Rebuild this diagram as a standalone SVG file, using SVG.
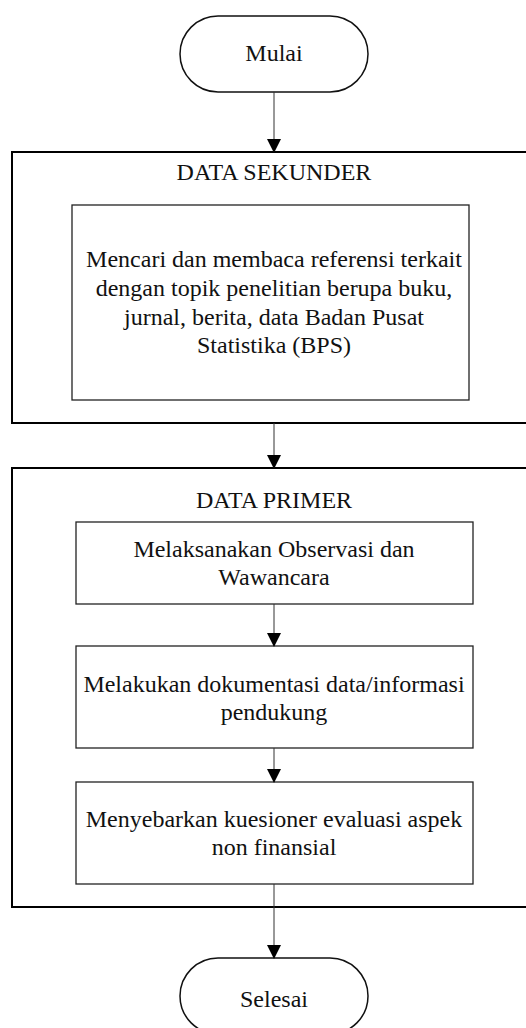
<svg xmlns="http://www.w3.org/2000/svg" width="526" height="1028" viewBox="0 0 526 1028">
<style>
text{font-family:'Liberation Serif',serif;font-size:24px;fill:#111;text-anchor:middle}
.outer{fill:none;stroke:#000;stroke-width:2}
.box{fill:#fff;stroke:#222;stroke-width:1.3}
.term{fill:#fff;stroke:#111;stroke-width:1.5}
.conn{stroke:#333;stroke-width:1;fill:none}
</style>
<defs>
<marker id="arr" markerUnits="userSpaceOnUse" markerWidth="14" markerHeight="15" refX="13" refY="7" orient="auto">
<path d="M0,0 L14,7 L0,14 Z" fill="#000"/>
</marker>
</defs>
<g id="mulai">
<rect class="term" x="180" y="16" width="188" height="76" rx="38" ry="38"/>
<text x="274" y="61" font-family="Liberation Serif, serif">Mulai</text>
</g>
<g id="data-sekunder">
<rect class="outer" x="12" y="152" width="530" height="271"/>
<text x="274" y="180" font-family="Liberation Serif, serif">DATA SEKUNDER</text>
</g>
<g id="mencari" font-family="Liberation Serif, serif">
<rect class="box" x="72" y="205" width="397" height="195"/>
<text x="274" y="267">Mencari dan membaca referensi terkait</text>
<text x="274" y="296">dengan topik penelitian berupa buku,</text>
<text x="274" y="325">jurnal, berita, data Badan Pusat</text>
<text x="274" y="353">Statistika (BPS)</text>
</g>
<g id="data-primer">
<rect class="outer" x="12" y="468" width="530" height="439"/>
<text x="274" y="508">DATA PRIMER</text>
</g>
<g id="observasi">
<rect class="box" x="76" y="522" width="397" height="82"/>
<text x="274" y="557">Melaksanakan Observasi dan</text>
<text x="274" y="585">Wawancara</text>
</g>
<g id="dokumentasi">
<rect class="box" x="76" y="646" width="397" height="102"/>
<text x="274" y="692">Melakukan dokumentasi data/informasi</text>
<text x="274" y="720">pendukung</text>
</g>
<g id="kuesioner">
<rect class="box" x="76" y="782" width="397" height="102"/>
<text x="274" y="827">Menyebarkan kuesioner evaluasi aspek</text>
<text x="274" y="855">non finansial</text>
</g>
<g id="selesai">
<rect class="term" x="180" y="958" width="188" height="76" rx="38" ry="38"/>
<text x="274" y="1007">Selesai</text>
</g>
<g id="connectors">
<line class="conn" x1="274" y1="92" x2="274" y2="152" marker-end="url(#arr)"/>
<line class="conn" x1="274" y1="423" x2="274" y2="468" marker-end="url(#arr)"/>
<line class="conn" x1="274" y1="604" x2="274" y2="646" marker-end="url(#arr)"/>
<line class="conn" x1="274" y1="748" x2="274" y2="782" marker-end="url(#arr)"/>
<line class="conn" x1="274" y1="884" x2="274" y2="958" marker-end="url(#arr)"/>
</g>
</svg>
